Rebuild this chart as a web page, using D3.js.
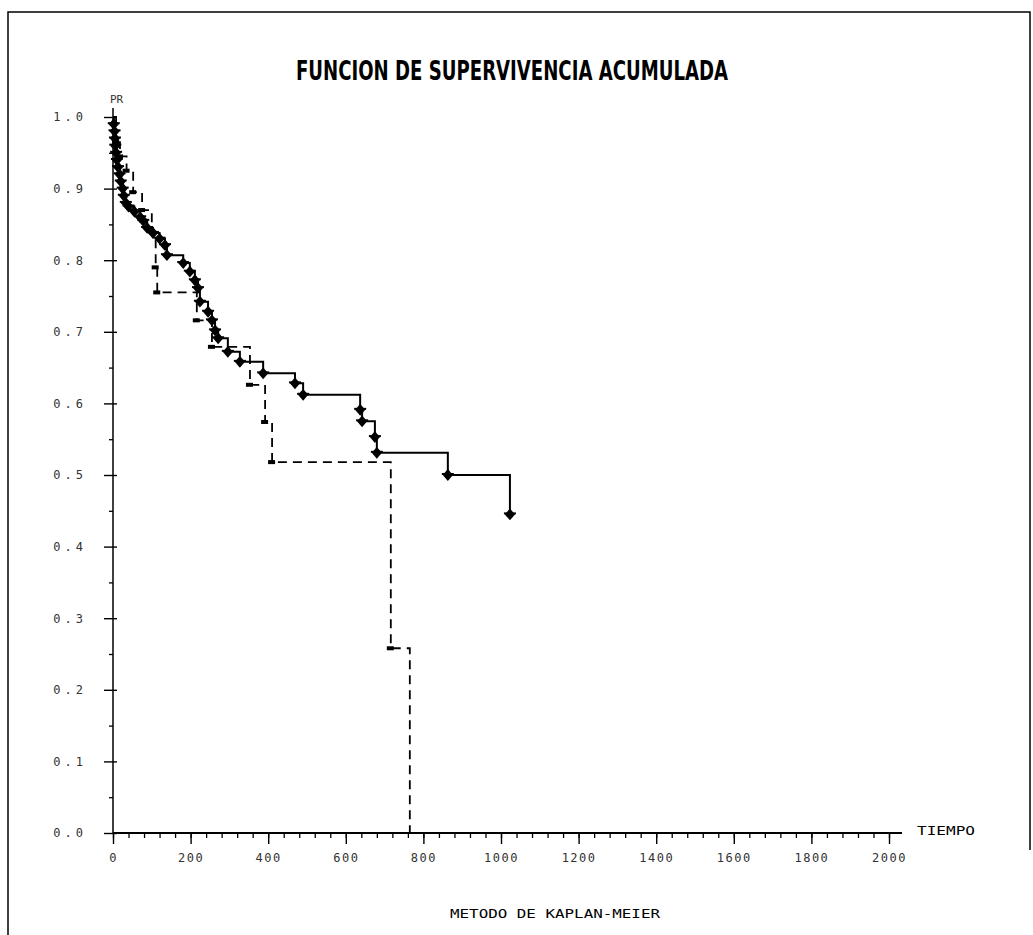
<!DOCTYPE html>
<html>
<head>
<meta charset="utf-8">
<script src="https://cdn.jsdelivr.net/npm/d3@7"></script>
<style>
  body { margin: 0; background: #fff; }
  svg { display: block; }
  .tick text { font-family: "DejaVu Sans Mono", monospace; fill: #333; }
</style>
</head>
<body>
<div id="chart"></div>
<script>
// kaplan-meier estimates
var solidTime = [0, 2, 4, 5, 6, 8, 10, 13, 17, 20, 25, 28, 33, 40, 55, 70, 78, 88, 103, 120, 134, 139,
  181, 198, 211, 219, 224, 245, 255, 263, 271, 296, 327, 387, 469, 490, 637, 642, 675, 680, 863, 1023];
var solidSurv = [1.0, 0.99, 0.98, 0.97, 0.96, 0.95, 0.94, 0.93, 0.92, 0.91, 0.90, 0.89, 0.88, 0.875, 0.868, 0.86, 0.855,
  0.845, 0.838, 0.83, 0.821, 0.807, 0.796, 0.784, 0.772, 0.761, 0.742, 0.728, 0.716, 0.702, 0.691, 0.672,
  0.658, 0.642, 0.628, 0.612, 0.591, 0.575, 0.553, 0.531, 0.500, 0.445];

var dashTime = [0, 8, 18, 35, 52, 75, 100, 110, 114, 216, 255, 353, 392, 410, 716, 765];
var dashSurv = [1.0, 0.965, 0.945, 0.925, 0.895, 0.87, 0.84, 0.79, 0.755, 0.716, 0.679, 0.626, 0.574, 0.518, 0.258, 0];

var xTicks = [0, 200, 400, 600, 800, 1000, 1200, 1400, 1600, 1800, 2000];
var yTicks = [0, 0.1, 0.2, 0.3, 0.4, 0.5, 0.6, 0.7, 0.8, 0.9, 1.0];

var W = 1033, H = 935;
var svg = d3.select("#chart").append("svg")
  .attr("width", W).attr("height", H);

// page frame
svg.append("path")
  .attr("d", "M8,935 L8,12 L1030,12 L1030,850")
  .attr("fill", "none").attr("stroke", "#000").attr("stroke-width", 1.5);

var x = d3.scaleLinear().domain([0, 2000]).range([113, 889]);
var y = d3.scaleLinear().domain([0, 1]).range([833, 117]);

// x axis
var xMinor = d3.range(0, 2001, 40);
svg.append("g")
  .attr("transform", "translate(0,833)")
  .call(d3.axisBottom(x).tickValues(xMinor).tickSize(5).tickFormat(""))
  .call(g => g.select(".domain").remove())
  .selectAll("line").attr("stroke-width", 1.3);
var gx = svg.append("g")
  .attr("transform", "translate(0,833)")
  .call(d3.axisBottom(x).tickValues(xTicks).tickSize(11).tickPadding(9).tickSizeOuter(0)
    .tickFormat(d3.format("d")));
gx.select(".domain").attr("d", "M113,0H902").attr("stroke-width", 2);
gx.selectAll("line").attr("stroke-width", 1.4);
gx.selectAll("text").attr("font-size", 12).attr("letter-spacing", 1.5);

// y axis
var yMinor = d3.range(0.05, 1, 0.1);
svg.append("g")
  .attr("transform", "translate(113,0)")
  .call(d3.axisLeft(y).tickValues(yMinor).tickSize(4).tickFormat(""))
  .call(g => g.select(".domain").remove())
  .selectAll("line").attr("stroke-width", 1.3);
var gy = svg.append("g")
  .attr("transform", "translate(113,0)")
  .call(d3.axisLeft(y).tickValues(yTicks).tickSize(9).tickPadding(17).tickSizeOuter(0)
    .tickFormat(d3.format(".1f")));
gy.select(".domain").attr("d", "M0,833V108").attr("stroke-width", 1.5);
gy.selectAll("line").attr("x2", -9).attr("x1", 4).attr("stroke-width", 1.4);
gy.selectAll("text").attr("font-size", 12).attr("letter-spacing", 4);

// curves
var line = d3.line()
  .x(d => x(d[0])).y(d => y(d[1]))
  .curve(d3.curveStepAfter);

var solidPts = solidTime.map((t, i) => [t, solidSurv[i]]);
var dashPts = dashTime.map((t, i) => [t, dashSurv[i]]);

svg.append("path")
  .datum(dashPts)
  .attr("d", line)
  .attr("fill", "none").attr("stroke", "#000")
  .attr("stroke-width", 1.8).attr("stroke-dasharray", "9,6");

svg.append("path")
  .datum(solidPts)
  .attr("d", line)
  .attr("fill", "none").attr("stroke", "#000")
  .attr("stroke-width", 2);

// markers
svg.selectAll(".dmark")
  .data(dashPts.slice(1, -1))
  .enter().append("rect")
  .attr("class", "dmark")
  .attr("x", d => x(d[0]) - 4)
  .attr("y", d => y(d[1]) - 2)
  .attr("width", 7).attr("height", 4)
  .attr("fill", "#000");

var diamond = d3.symbol().type(d3.symbolDiamond).size(40);
svg.selectAll(".smark")
  .data(solidPts.slice(1))
  .enter().append("path")
  .attr("class", "smark")
  .attr("d", diamond)
  .attr("transform", d => "translate(" + x(d[0]) + "," + y(d[1]) + ") scale(1.5,1)")
  .attr("fill", "#000");
svg.selectAll(".sbar")
  .data(solidPts.slice(1))
  .enter().append("line")
  .attr("class", "sbar")
  .attr("x1", d => x(d[0]) - 6).attr("x2", d => x(d[0]) + 6)
  .attr("y1", d => y(d[1]) - 1).attr("y2", d => y(d[1]) - 1)
  .attr("stroke", "#000").attr("stroke-width", 2);

// texts
svg.append("text")
  .attr("x", 296).attr("y", 80)
  .attr("textLength", 432).attr("lengthAdjust", "spacingAndGlyphs")
  .attr("font-family", "DejaVu Sans Condensed, sans-serif")
  .attr("font-weight", "bold").attr("font-size", 27)
  .text("FUNCION DE SUPERVIVENCIA ACUMULADA");

svg.append("text")
  .attr("x", 110).attr("y", 103)
  .attr("font-family", "DejaVu Sans Mono, monospace").attr("font-size", 11)
  .attr("fill", "#333")
  .text("PR");

svg.append("text")
  .attr("x", 917).attr("y", 835)
  .attr("textLength", 58).attr("lengthAdjust", "spacingAndGlyphs")
  .attr("font-family", "DejaVu Sans Mono, monospace").attr("font-size", 12)
  .text("TIEMPO");

svg.append("text")
  .attr("x", 450).attr("y", 918)
  .attr("textLength", 210).attr("lengthAdjust", "spacingAndGlyphs")
  .attr("font-family", "DejaVu Sans Mono, monospace").attr("font-size", 12)
  .text("METODO DE KAPLAN-MEIER");
</script>
</body>
</html>
